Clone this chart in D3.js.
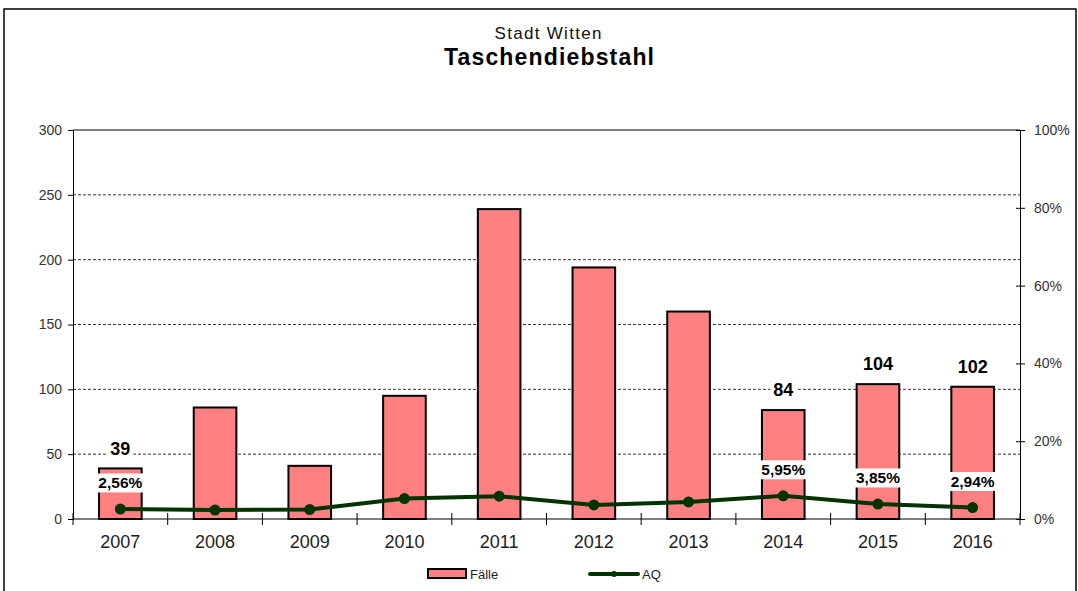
<!DOCTYPE html>
<html>
<head>
<meta charset="utf-8">
<script src="https://cdn.jsdelivr.net/npm/d3@7"></script>
<style>
  body { margin: 0; background: #fff; }
  svg { font-family: "Liberation Sans", Arial, sans-serif; }
</style>
</head>
<body>
<svg id="chart" width="1078" height="591"></svg>
<script>
// data
const years = ["2007", "2008", "2009", "2010", "2011", "2012", "2013", "2014", "2015", "2016"];
const cases = [39, 86, 41, 95, 239, 194, 160, 84, 104, 102];
const aq = [2.56, 2.30, 2.44, 5.26, 5.86, 3.61, 4.38, 5.95, 3.85, 2.94];
const labeledYears = ["2007", "2014", "2015", "2016"];
const leftTicks = [0, 50, 100, 150, 200, 250, 300];
const rightTicks = [0, 20, 40, 60, 80, 100];

const svg = d3.select("#chart");
const plotLeft = 73, plotRight = 1020, plotTop = 130, plotBottom = 519;

// outer frame
svg.append("rect")
    .attr("x", 4).attr("y", 9)
    .attr("width", 1072).attr("height", 600)
    .attr("fill", "none")
    .attr("stroke", "#000")
    .attr("stroke-width", 1.5);

// titles
svg.append("text")
    .attr("x", 548).attr("y", 39)
    .attr("text-anchor", "middle")
    .attr("font-size", 17)
    .attr("fill", "#111")
    .attr("textLength", 107)
    .text("Stadt  Witten");
svg.append("text")
    .attr("x", 549).attr("y", 65)
    .attr("text-anchor", "middle")
    .attr("font-size", 23)
    .attr("font-weight", "bold")
    .attr("textLength", 210)
    .text("Taschendiebstahl");

const x = d3.scaleBand().domain(years).range([plotLeft, plotRight]).paddingInner(0.55).paddingOuter(0.275);
const y = d3.scaleLinear().domain([0, 300]).range([plotBottom, plotTop]);
const yr = d3.scaleLinear().domain([0, 100]).range([plotBottom, plotTop]);
const step = x.step();
const cx = d => x(d) + x.bandwidth() / 2;

// gridlines
svg.append("g")
    .selectAll("line")
    .data(leftTicks.filter(t => t > 0 && t < 300))
    .join("line")
    .attr("x1", plotLeft).attr("x2", plotRight)
    .attr("y1", d => y(d)).attr("y2", d => y(d))
    .attr("stroke", "#333")
    .attr("stroke-width", 1)
    .attr("stroke-dasharray", "3,2");

// top border of plot
svg.append("line")
    .attr("x1", plotLeft).attr("x2", plotRight)
    .attr("y1", plotTop).attr("y2", plotTop)
    .attr("stroke", "#000");

// left axis
const leftAxis = svg.append("g")
    .attr("transform", `translate(${plotLeft},0)`)
    .call(d3.axisLeft(y).tickValues(leftTicks).tickSize(5).tickPadding(6));
leftAxis.select(".domain").attr("stroke", "#000");
leftAxis.selectAll("text").attr("font-size", 14).attr("fill", "#333")
    .attr("font-family", "Liberation Sans, Arial, sans-serif");

// right axis, ticks crossing
const rightAxis = svg.append("g")
    .attr("transform", `translate(${plotRight},0)`)
    .call(d3.axisRight(yr).tickValues(rightTicks).tickFormat(d => d + "%").tickSize(5).tickPadding(9));
rightAxis.select(".domain").attr("stroke", "#000");
rightAxis.selectAll(".tick line").attr("x1", -4).attr("x2", 5);
rightAxis.selectAll("text").attr("font-size", 14).attr("fill", "#333")
    .attr("font-family", "Liberation Sans, Arial, sans-serif");

// bars
svg.append("g")
    .selectAll("rect")
    .data(years)
    .join("rect")
    .attr("x", d => x(d))
    .attr("y", (d, i) => y(cases[i]))
    .attr("width", x.bandwidth())
    .attr("height", (d, i) => plotBottom - y(cases[i]))
    .attr("fill", "#FF8080")
    .attr("stroke", "#000")
    .attr("stroke-width", 2);

// x axis line with crossing ticks between categories
svg.append("line")
    .attr("x1", plotLeft).attr("x2", plotRight)
    .attr("y1", plotBottom).attr("y2", plotBottom)
    .attr("stroke", "#000");
svg.append("g")
    .selectAll("line")
    .data(d3.range(0, years.length + 1))
    .join("line")
    .attr("x1", i => plotLeft + i * step).attr("x2", i => plotLeft + i * step)
    .attr("y1", plotBottom - 6).attr("y2", plotBottom + 6)
    .attr("stroke", "#000");
svg.append("g")
    .selectAll("text")
    .data(years)
    .join("text")
    .attr("x", d => cx(d))
    .attr("y", plotBottom + 29)
    .attr("text-anchor", "middle")
    .attr("font-size", 18)
    .attr("fill", "#222")
    .text(d => d);

// AQ line
const line = d3.line()
    .x((d, i) => cx(years[i]))
    .y(d => yr(d));
svg.append("path")
    .datum(aq)
    .attr("d", line)
    .attr("fill", "none")
    .attr("stroke", "#003300")
    .attr("stroke-width", 4);
svg.append("g")
    .selectAll("circle")
    .data(aq)
    .join("circle")
    .attr("cx", (d, i) => cx(years[i]))
    .attr("cy", d => yr(d))
    .attr("r", 5.5)
    .attr("fill", "#003300");

// labels with white background
function boxedLabel(g, xx, yy, txt, size) {
    const t = g.append("text")
        .attr("x", xx).attr("y", yy)
        .attr("dy", "0.35em")
        .attr("text-anchor", "middle")
        .attr("font-size", size)
        .attr("font-weight", "bold")
        .attr("fill", "#000")
        .text(txt);
    const b = t.node().getBBox();
    g.insert("rect", () => t.node())
        .attr("x", b.x - 3).attr("y", b.y - 1)
        .attr("width", b.width + 6).attr("height", b.height + 2)
        .attr("fill", "#fff");
}
const labels = svg.append("g");
labeledYears.forEach(yrLabel => {
    const i = years.indexOf(yrLabel);
    boxedLabel(labels, cx(yrLabel), y(cases[i]) - 20, String(cases[i]), 18);
    boxedLabel(labels, cx(yrLabel), yr(aq[i]) - 26, aq[i].toFixed(2).replace(".", ",") + "%", 15.5);
});

// legend
const lg = svg.append("g");
lg.append("rect")
    .attr("x", 428).attr("y", 569)
    .attr("width", 38).attr("height", 9)
    .attr("fill", "#FF8080")
    .attr("stroke", "#000")
    .attr("stroke-width", 2);
lg.append("text")
    .attr("x", 470).attr("y", 574)
    .attr("dy", "0.35em")
    .attr("font-size", 13)
    .attr("fill", "#222")
    .text("Fälle");
lg.append("line")
    .attr("x1", 590).attr("x2", 638)
    .attr("y1", 574).attr("y2", 574)
    .attr("stroke", "#003300")
    .attr("stroke-width", 4)
    .attr("stroke-linecap", "round");
lg.append("circle")
    .attr("cx", 614).attr("cy", 574).attr("r", 3)
    .attr("fill", "#003300");
lg.append("text")
    .attr("x", 642).attr("y", 574)
    .attr("dy", "0.35em")
    .attr("font-size", 13)
    .attr("fill", "#222")
    .text("AQ");
</script>
</body>
</html>
